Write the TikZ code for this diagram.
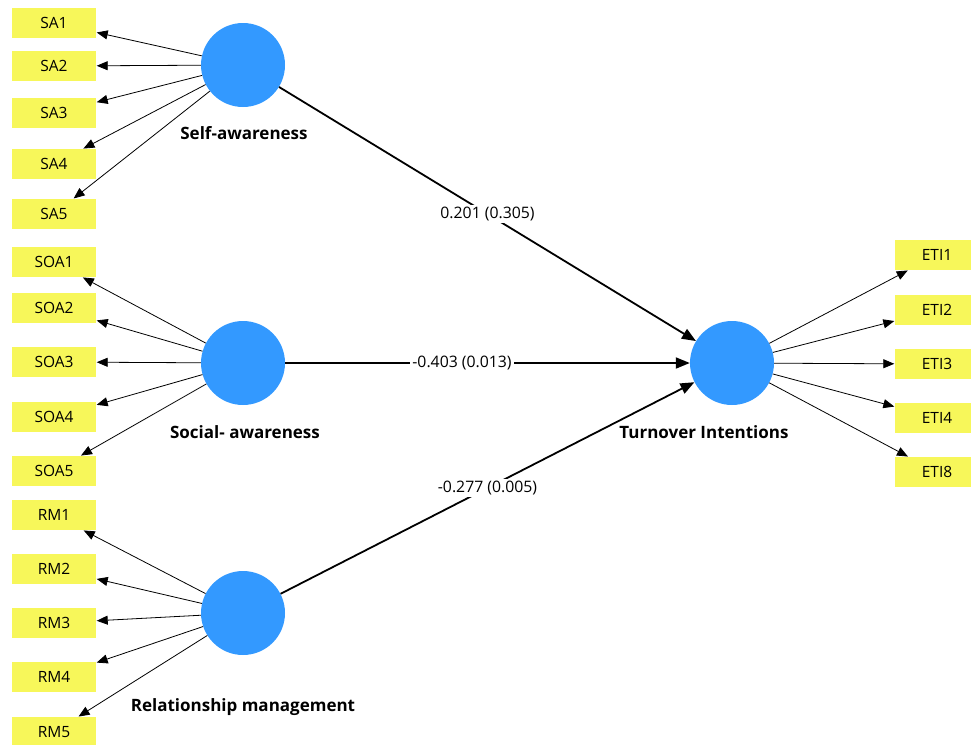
\documentclass[tikz,border=0pt]{standalone}
\usepackage{fontspec}
\setmainfont{Open Sans}
\usetikzlibrary{arrows.meta}
\definecolor{indyellow}{RGB}{247,247,90}
\definecolor{latblue}{RGB}{51,153,255}
\tikzset{
  ind/.style={fill=indyellow, draw=none, minimum width=84pt, minimum height=30pt, inner sep=0pt, font=\fontsize{15.5}{17}\selectfont},
  lat/.style={circle, fill=latblue, draw=none, minimum size=84pt, inner sep=0pt},
  latlabel/.style={font=\fontsize{17}{19}\selectfont\bfseries, inner sep=0pt},
  load/.style={-{Triangle[length=11pt,width=9pt]}, line width=0.8pt, shorten >=0.5pt},
  path/.style={-{Triangle[length=14pt,width=11pt]}, line width=1.8pt},
  coef/.style={fill=white, inner sep=2pt, font=\fontsize{15.8}{17}\selectfont}
}
\begin{document}
\begin{tikzpicture}[x=1pt,y=-1pt]
\useasboundingbox (0,0) rectangle (971,744);
\clip (0,0) rectangle (971,744);
% latent variables
\node[lat] (SA) at (243,65) {};
\node[lat] (SOA) at (243,363) {};
\node[lat] (RM) at (243,613) {};
\node[lat] (TI) at (732,363) {};
\node[latlabel] (SAl) at (244,133) {Self-awareness};
\node[latlabel] (SOAl) at (245,432) {Social- awareness};
\node[latlabel] (RMl) at (243,707) {Relationship management};
\node[latlabel] (TIl) at (704,432) {Turnover Intentions};
% indicators
\node[ind] (SA1) at (54,23) {SA1};
\node[ind] (SA2) at (54,66) {SA2};
\node[ind] (SA3) at (54,113) {SA3};
\node[ind] (SA4) at (54,164) {SA4};
\node[ind] (SA5) at (54,214) {SA5};
\node[ind] (SOA1) at (54,262) {SOA1};
\node[ind] (SOA2) at (54,308) {SOA2};
\node[ind] (SOA3) at (54,362) {SOA3};
\node[ind] (SOA4) at (54,417) {SOA4};
\node[ind] (SOA5) at (54,471) {SOA5};
\node[ind] (RM1) at (54,515) {RM1};
\node[ind] (RM2) at (54,569) {RM2};
\node[ind] (RM3) at (54,623) {RM3};
\node[ind] (RM4) at (54,677) {RM4};
\node[ind] (RM5) at (54,732) {RM5};
\node[ind] (ETI1) at (937,255) {ETI1};
\node[ind] (ETI2) at (937,310) {ETI2};
\node[ind] (ETI3) at (937,364) {ETI3};
\node[ind] (ETI4) at (937,418) {ETI4};
\node[ind] (ETI8) at (937,472) {ETI8};
% loadings
\foreach \i in {1,...,5} {
  \draw[load] (SA) -- (SA\i);
  \draw[load] (SOA) -- (SOA\i);
  \draw[load] (RM) -- (RM\i);
}
\foreach \i in {1,2,3,4,8} {
  \draw[load] (TI) -- (ETI\i);
}
% structural paths
\draw[path] (SA) -- node[coef, pos=0.50] (c1) {0.201 (0.305)} (TI);
\draw[path] (SOA) -- node[coef, pos=0.437] (c2) {-0.403 (0.013)} (TI);
\draw[path] (RM) -- node[coef, pos=0.50] (c3) {-0.277 (0.005)} (TI);
\end{tikzpicture}
\end{document}
